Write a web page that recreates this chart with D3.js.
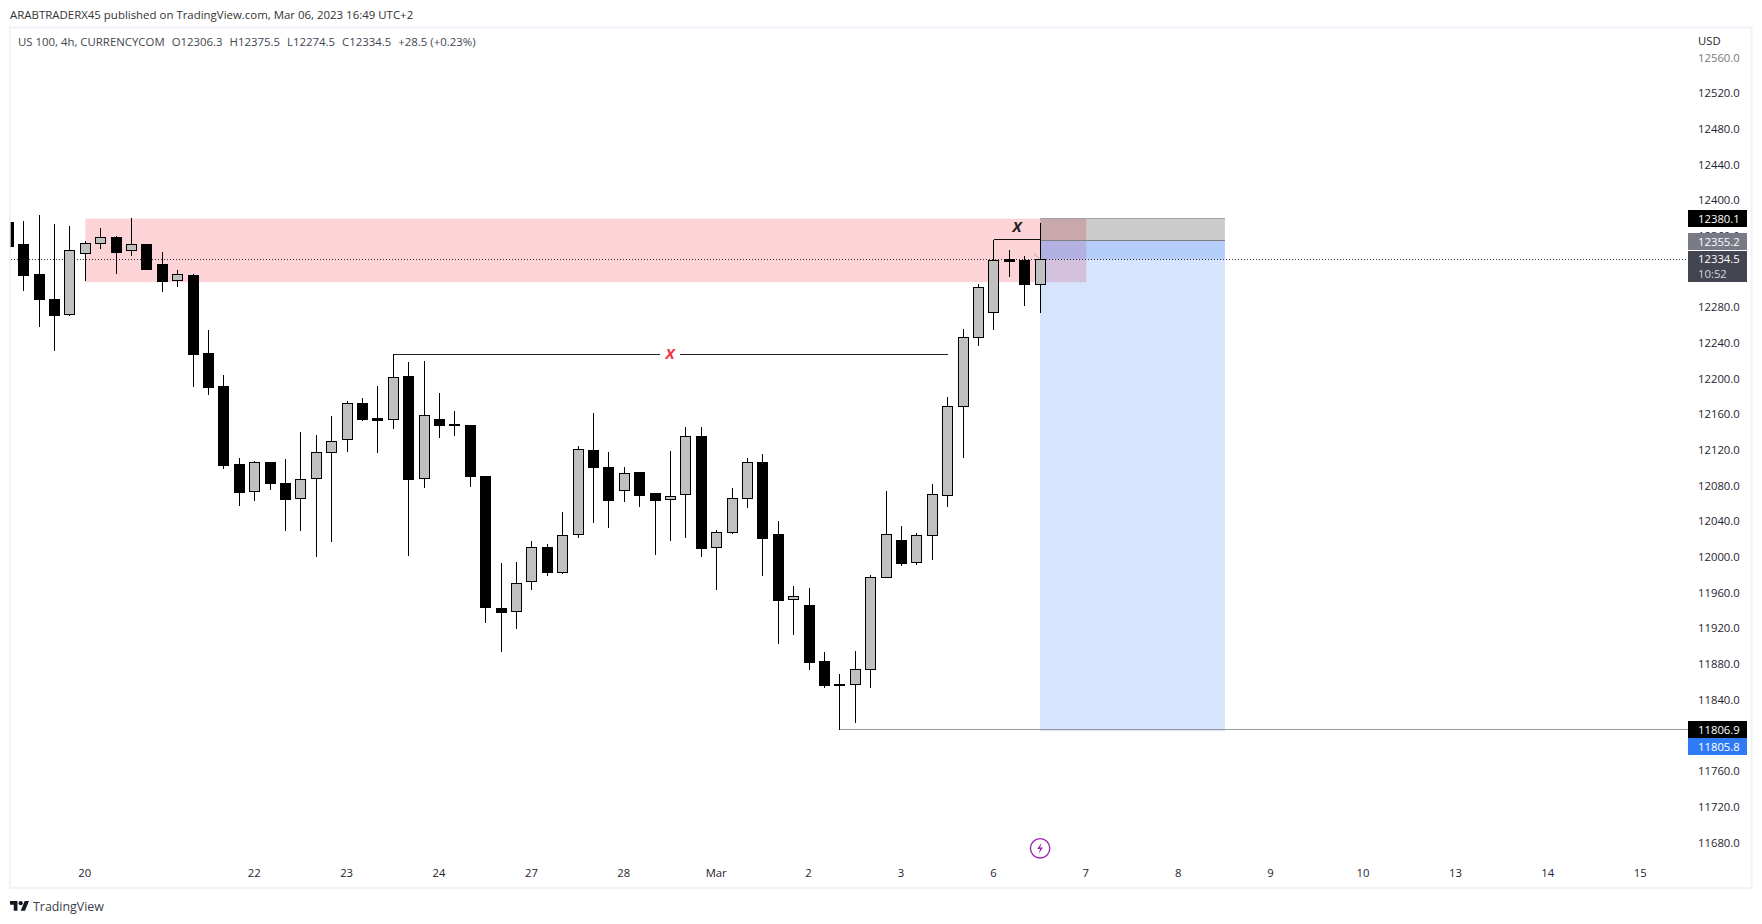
<!DOCTYPE html>
<html>
<head>
<meta charset="utf-8">
<script src="https://d3js.org/d3.v7.min.js"></script>
<style>
  html, body { margin: 0; padding: 0; background: #fff; }
  svg { display: block; }
  text { font-family: "Open Sans", sans-serif; }
  .tick text { font-size: 11.3px; fill: #1f2330; }
  .tag { font-size: 11.3px; fill: #fff; }
</style>
</head>
<body>
<svg id="chart" width="1762" height="924"></svg>
<script>
var firstIndex = -5;
var opens = [12375.6,12350.6,12318.0,12290.0,12272.4,12341.2,12352.4,12359.5,12344.2,12350.6,12329.2,12310.6,12316.9,12229.5,12192.5,12105.0,12074.0,12107.3,12083.7,12066.2,12088.6,12117.7,12132.3,12173.4,12156.6,12154.7,12203.7,12088.6,12155.5,12149.5,12148.8,12091.6,11943.6,11939.5,11973.1,12012.0,11983.2,12025.8,12120.7,12101.7,12075.1,12096.1,12072.5,12065.0,12070.6,12136.4,12011.2,12028.0,12066.2,12107.3,12026.5,11952.9,11947.0,11884.2,11858.4,11857.6,11874.5,11977.6,12019.8,11994.4,12024.7,12069.5,12169.3,12247.0,12274.7,12334.5,12333.7,12306.3];
var highs = [12375.6,12377.5,12384.2,12374.1,12371.9,12354.7,12369.6,12360.6,12380.8,12351.7,12342.7,12322.5,12318.0,12255.3,12204.8,12111.8,12108.4,12107.3,12110.6,12140.9,12137.5,12158.8,12175.7,12179.0,12192.5,12228.4,12219.4,12220.5,12184.6,12164.4,12148.8,12091.6,11994.0,11995.2,12018.7,12015.3,12051.2,12125.2,12162.2,12118.5,12101.7,12096.1,12072.5,12119.6,12146.5,12146.5,12031.0,12078.1,12111.8,12116.2,12041.1,11968.3,11966.0,11894.3,11869.6,11895.4,11980.6,12074.8,12035.5,12027.7,12082.6,12180.1,12256.4,12306.8,12356.5,12344.9,12338.2,12375.5];
var lows = [12349.4,12299.4,12259.0,12232.1,12271.0,12310.2,12346.1,12318.0,12338.2,12323.6,12297.9,12303.5,12191.4,12182.4,12099.4,12057.9,12063.5,12075.9,12029.9,12029.9,12000.8,12017.6,12118.5,12153.2,12117.4,12144.3,12001.9,12078.1,12134.2,12136.4,12079.2,11926.8,11894.3,11920.0,11963.8,11979.5,11981.7,12022.1,12038.9,12033.3,12062.4,12056.8,12003.0,12018.7,12022.1,12000.8,11963.8,12026.5,12055.7,11979.5,11903.2,11913.3,11874.1,11853.9,11806.9,11814.7,11853.9,11977.6,11990.7,11991.8,11997.4,12056.8,12111.8,12237.3,12255.3,12314.7,12282.2,12274.5];
var closes = [12349.4,12316.9,12290.0,12272.1,12344.9,12352.4,12359.1,12342.7,12351.3,12323.6,12310.2,12317.7,12228.4,12191.4,12103.9,12073.6,12106.9,12083.7,12065.8,12087.8,12118.1,12130.4,12173.0,12155.5,12154.4,12202.2,12088.2,12159.6,12148.8,12148.0,12090.8,11944.7,11939.1,11971.2,12011.6,11984.0,12025.1,12121.5,12101.7,12064.7,12094.6,12070.3,12064.7,12068.8,12136.0,12010.9,12028.4,12066.5,12106.9,12022.1,11952.6,11956.7,11883.1,11857.3,11857.3,11874.8,11978.0,12026.2,11994.0,12025.1,12071.0,12169.7,12247.0,12303.1,12333.4,12331.9,12306.1,12334.5];

// 11800 and 12320 are fully covered by the tags in the picture, so left out
var priceTicks = [11680,11720,11760,11840,11880,11920,11960,12000,12040,12080,12120,12160,12200,12240,12280,12360,12400,12440,12480,12520,12560];
var timeIndex = [0,11,17,23,29,35,41,47,53,59,65,71,77,83,89,95,101];
var timeLabels = ['20','22','23','24','27','28','Mar','2','3','6','7','8','9','10','13','14','15'];

var supplyZone = { from: 0, to: 65, top: 12380.1, bottom: 12308.9 };
var position = { from: 62, to: 74, stop: 12380.1, entry: 12355.2, target: 11805.8, last: 12334.5 };
var swingLow = { from: 49, price: 11806.9 };
var firstBreak = { from: 20, to: 56, price: 12228.3 };
var secondBreak = { from: 59, to: 62, price: 12356.5 };

var headerText = 'ARABTRADERX45 published on TradingView.com, Mar 06, 2023 16:49 UTC+2';
var legendText = 'US 100, 4h, CURRENCYCOM';
var legendValues = ['O12306.3', 'H12375.5', 'L12274.5', 'C12334.5', '+28.5 (+0.23%)'];

var plotLeft = 10.7, plotRight = 1688, plotTop = 28.7, plotBottom = 887;
var x = d3.scaleLinear().domain([0, 101]).range([85.3, 1640.7]);
var y = d3.scaleLinear().domain([11680, 12560]).range([843.2, 58.2]);

var svg = d3.select('#chart');

svg.append('rect').attr('width', 1762).attr('height', 924).attr('fill', '#fff');
svg.append('rect')
  .attr('x', 10).attr('y', 27.5).attr('width', 1741.5).attr('height', 860.5)
  .attr('fill', 'none').attr('stroke', '#f0f3fa').attr('stroke-width', 2);

svg.append('clipPath').attr('id', 'plot').append('rect')
  .attr('x', plotLeft).attr('y', plotTop)
  .attr('width', plotRight - plotLeft).attr('height', plotBottom - plotTop);

var yAxis = d3.axisRight(y).tickValues(priceTicks).tickSize(0).tickPadding(0)
  .tickFormat(function(d) { return d.toFixed(1); });
var yG = svg.append('g').attr('transform', 'translate(1698,-0.8)').call(yAxis);
yG.select('.domain').remove();
yG.selectAll('.tick text').filter(function(d) { return d === 12560; }).style('fill', '#777');

var xAxis = d3.axisBottom(x).tickValues(timeIndex).tickSize(0).tickPadding(0)
  .tickFormat(function(d, i) { return timeLabels[i]; });
var xG = svg.append('g').attr('transform', 'translate(-1,869)').call(xAxis);
xG.select('.domain').remove();

var plot = svg.append('g').attr('clip-path', 'url(#plot)');

function box(g, from, to, top, bottom, fill) {
  return g.append('rect')
    .attr('x', x(from)).attr('width', x(to) - x(from))
    .attr('y', y(top)).attr('height', y(bottom) - y(top))
    .attr('fill', fill);
}

function hline(g, from, to, price, color) {
  return g.append('line')
    .attr('x1', from).attr('x2', to)
    .attr('y1', y(price)).attr('y2', y(price))
    .attr('stroke', color).attr('stroke-width', 1)
    .attr('shape-rendering', 'crispEdges');
}

box(plot, supplyZone.from, supplyZone.to, supplyZone.top, supplyZone.bottom, 'rgba(242,54,69,0.22)');
box(plot, position.from, position.to, position.stop, position.entry, 'rgba(0,0,0,0.2)');
box(plot, position.from, position.to, position.entry, position.target, 'rgba(49,121,245,0.2)');
box(plot, position.from, position.to, position.entry, position.last, 'rgba(49,121,245,0.2)');
hline(plot, x(position.from), x(position.to), position.stop, '#a0a0a0');
hline(plot, x(position.from), x(position.to), position.entry, '#808080');

hline(plot, plotLeft, plotRight, position.last, '#333')
  .attr('stroke-dasharray', '1 2');

hline(plot, x(swingLow.from), plotRight, swingLow.price, '#9a9a9a');
hline(plot, x(firstBreak.from), x(firstBreak.to), firstBreak.price, '#222');
hline(plot, x(secondBreak.from), x(secondBreak.to), secondBreak.price, '#111');

var candles = d3.range(opens.length).map(function(k) {
  return { i: k + firstIndex, o: opens[k], h: highs[k], l: lows[k], c: closes[k] };
});

var candle = plot.selectAll('g.candle').data(candles).enter()
  .append('g').attr('class', 'candle')
  .attr('shape-rendering', 'crispEdges');

candle.append('line')
  .attr('x1', function(d) { return x(d.i); })
  .attr('x2', function(d) { return x(d.i); })
  .attr('y1', function(d) { return y(d.h); })
  .attr('y2', function(d) { return y(d.l); })
  .attr('stroke', '#000').attr('stroke-width', 1);

candle.append('rect')
  .attr('x', function(d) { return x(d.i) - 5; })
  .attr('width', 10)
  .attr('y', function(d) { return y(Math.max(d.o, d.c)); })
  .attr('height', function(d) { return Math.abs(y(d.o) - y(d.c)); })
  .attr('fill', function(d) { return d.c >= d.o ? '#c0c0c0' : '#000'; })
  .attr('stroke', '#000').attr('stroke-width', 1);

// little grey chevron the position tool leaves on the last bar
plot.append('path')
  .attr('d', 'M' + (x(62) - 6) + ',' + (y(position.last) - 5.5) + 'l5,4.5m2.5,-1l3.5,-3.5')
  .attr('fill', 'none').attr('stroke', '#aaa').attr('stroke-width', 1);

// the two "x" labels
plot.append('rect')
  .attr('x', 660).attr('y', y(firstBreak.price) - 6)
  .attr('width', 20).attr('height', 12).attr('fill', '#fff');
plot.append('text')
  .attr('x', 670).attr('y', y(firstBreak.price) + 5)
  .attr('text-anchor', 'middle')
  .style('font-size', '15px').style('font-style', 'italic').style('font-weight', 700).style('fill', '#f23645')
  .text('X');
plot.append('text')
  .attr('x', (x(secondBreak.from) + x(secondBreak.to)) / 2)
  .attr('y', y(secondBreak.price) - 7.5)
  .attr('text-anchor', 'middle')
  .style('font-size', '15px').style('font-style', 'italic').style('font-weight', 700).style('fill', '#222')
  .text('X');

// header, legend, currency
svg.append('text').attr('x', 10).attr('y', 19)
  .style('font-size', '11.45px').style('fill', '#333').text(headerText);

var legend = svg.append('text').attr('x', 18).attr('y', 46)
  .style('font-size', '11.4px').style('fill', '#434651');
legend.append('tspan').text(legendText);
legendValues.forEach(function(v, k) {
  legend.append('tspan').attr('dx', 7).text(v);
});

svg.append('text').attr('x', 1698).attr('y', 45)
  .style('font-size', '11.3px').style('fill', '#1f2330').text('USD');

// price tags
var tagData = [
  { price: 12380.1, fill: '#000', top: 210, height: 17 },
  { price: 12355.2, fill: '#787b86', top: 233, height: 17 },
  { price: 11806.9, fill: '#000', top: 721, height: 17 },
  { price: 11805.8, fill: '#2f7bf5', top: 738, height: 17 }
];
var tags = svg.selectAll('g.tag-box').data(tagData).enter().append('g').attr('class', 'tag-box');
tags.append('rect')
  .attr('x', 1688).attr('width', 59)
  .attr('y', function(d) { return d.top; })
  .attr('height', function(d) { return d.height; })
  .attr('fill', function(d) { return d.fill; });
tags.append('text').attr('class', 'tag')
  .attr('x', 1698)
  .attr('y', function(d) { return d.top + 12.7; })
  .text(function(d) { return d.price.toFixed(1); });

svg.append('rect').attr('x', 1688).attr('y', 251).attr('width', 59).attr('height', 31).attr('fill', '#434651');
svg.append('text').attr('class', 'tag').attr('x', 1698).attr('y', 263).text('12334.5');
svg.append('text').attr('class', 'tag').attr('x', 1698).attr('y', 278).style('fill', '#d1d4dc').text('10:52');

// bolt marker under the last bar
var bolt = svg.append('g').attr('transform', 'translate(' + x(62) + ',848.3)');
bolt.append('circle').attr('r', 9.7).attr('fill', '#fff').attr('stroke', '#9c27b0').attr('stroke-width', 1.4);
bolt.append('path').attr('d', 'M1.5,-5.5L-3,0.8H0L-1.5,5.5L3,-0.8H0Z').attr('fill', '#9c27b0');

// logo
var logo = svg.append('g').attr('transform', 'translate(10,898.9) scale(0.535)').attr('fill', '#131722');
logo.append('path').attr('d', 'M14 22H7V11H0V4h14v18zM28 22h-8l7.5-18h8L28 22z');
logo.append('circle').attr('cx', 20).attr('cy', 8).attr('r', 4);
svg.append('text').attr('x', 33).attr('y', 911)
  .style('font-size', '12.4px').style('fill', '#3a3e4a').text('TradingView');
</script>
</body>
</html>
